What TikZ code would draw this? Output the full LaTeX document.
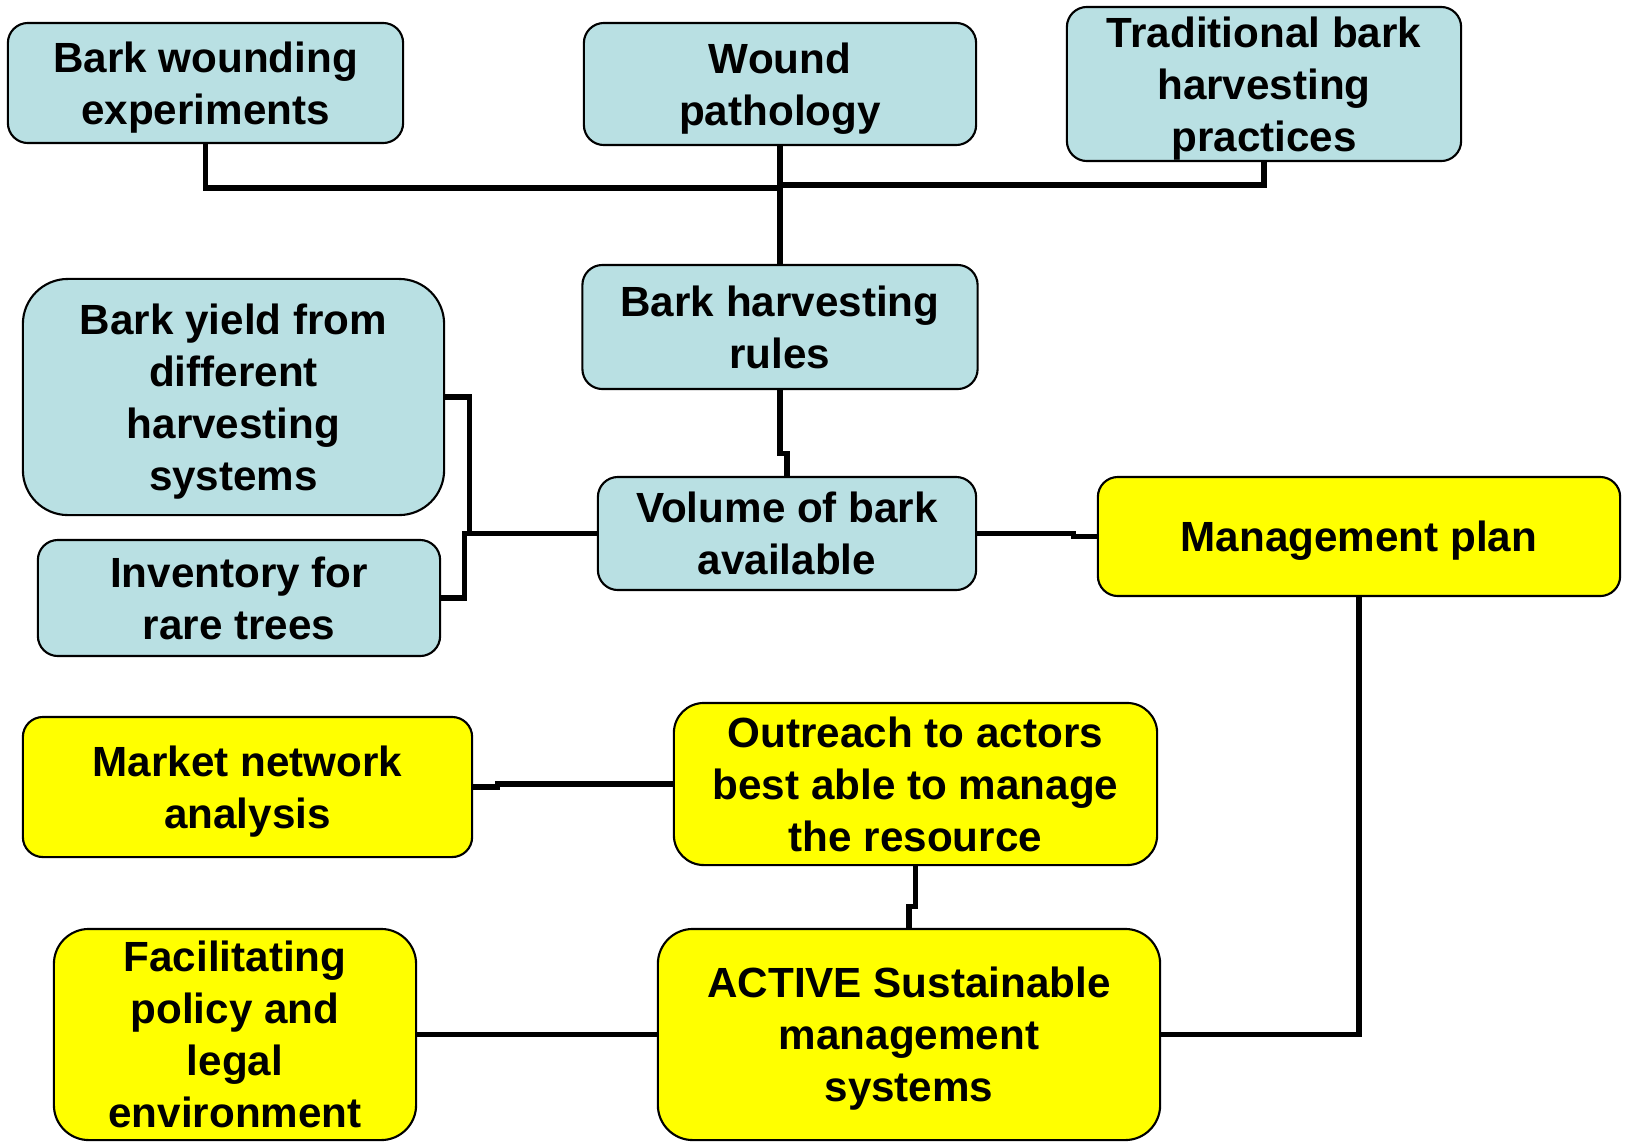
\documentclass[tikz,border=0pt]{standalone}
\usepackage{fontspec}
\setmainfont{Liberation Sans}
\usepackage{tikz}
\definecolor{boxblue}{RGB}{185,224,227}
\definecolor{boxyellow}{RGB}{255,255,0}

\begin{document}
\begin{tikzpicture}[x=0.01cm,y=-0.01cm,link/.style={line width=1.45pt,line join=miter},
    main box/.style={draw,line width=0.6pt,rounded corners=0.2cm,inner sep=0pt,align=center,
        font=\fontsize{12}{14.8}\selectfont\bfseries,text depth=0pt},
    blue box/.style={main box,fill=boxblue},
    yellow box/.style={main box,fill=boxyellow}]

            \useasboundingbox (0,0) rectangle (1628,1142);

            % top row
            \node[blue box, minimum width=3.95cm, minimum height=1.2cm] (bwe) at (205.5,83) {Bark wounding\\experiments};
            \node[blue box, minimum width=3.92cm, minimum height=1.22cm] (wp) at (780,84) {Wound\\pathology};
            \node[blue box, minimum width=3.94cm, minimum height=1.54cm] (tbhp) at (1264,84) {Traditional bark\\harvesting\\practices};

            % middle
            \node[blue box, minimum width=3.95cm, minimum height=1.24cm] (bhr) at (780,327) {Bark harvesting\\rules};
            \node[blue box, minimum width=4.21cm, minimum height=2.36cm, rounded corners=0.45cm] (by) at (233.5,397) {Bark yield from\\different\\harvesting\\systems};
            \node[blue box, minimum width=4.02cm, minimum height=1.16cm] (inv) at (239,598) {Inventory for\\rare trees};
            \node[blue box, minimum width=3.78cm, minimum height=1.13cm] (vba) at (787,533.5) {Volume of bark\\available};
            \node[yellow box, minimum width=5.22cm, minimum height=1.19cm] (mp) at (1359,536.5) {Management plan};

            % bottom
            \node[yellow box, minimum width=4.49cm, minimum height=1.4cm] (mna) at (247.5,787) {Market network\\analysis};
            \node[yellow box, minimum width=4.83cm, minimum height=1.62cm, rounded corners=0.3cm] (out) at (915.5,784) {Outreach to actors\\best able to manage\\the resource};
            \node[yellow box, minimum width=3.62cm, minimum height=2.11cm, rounded corners=0.35cm] (fac) at (235,1034.5) {Facilitating\\policy and\\legal\\environment};
            \node[yellow box, minimum width=5.02cm, minimum height=2.11cm, rounded corners=0.35cm] (act) at (909,1034.5) {ACTIVE Sustainable\\management\\systems};

            \coordinate (jleft) at (780,188);
            \coordinate (jright) at (780,185);

            \draw[link] (bwe.south) |- (jleft);
            \draw[link] (tbhp.south) |- (jright);
            \draw[link] (wp.south) -- (bhr.north);
            \draw[link] (bhr.south) -- ++(0,63) -| (vba.north);
            \draw[link] (by.east) -- ++(24,0) |- (vba.west);
            \draw[link] (inv.east) -- ++(23,0) |- (vba.west);
            \draw[link] (vba.east) -- ++(96,0) |- (mp.west);
            \draw[link] (mp.south) |- (act.east);
            \draw[link] (mna.east) -- ++(24,0) |- (out.west);
            \draw[link] (out.south) -- ++(0,40) -| (act.north);
            \draw[link] (fac.east) -- (act.west);

        \end{tikzpicture}
\end{document}
